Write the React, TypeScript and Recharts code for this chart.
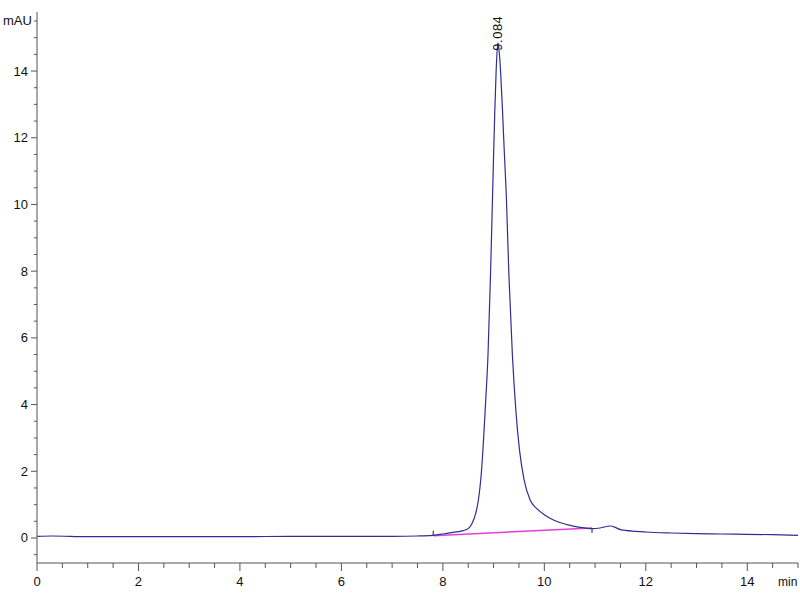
import { LineChart, Line, XAxis, YAxis, ReferenceLine, ReferenceDot } from 'recharts'

// retention time (min) and absorbance (mAU)
const times = [
  0, 0.3, 1, 2, 3, 4, 5, 5.5, 6, 7, 7.5, 7.8, 8.0, 8.2, 8.4, 8.5, 8.57, 8.65, 8.7, 8.75,
  8.79, 8.84, 8.89, 8.94, 8.98, 9.02, 9.05, 9.084, 9.12, 9.17, 9.21, 9.25, 9.3, 9.37, 9.44,
  9.51, 9.6, 9.72, 9.85, 10.0, 10.18, 10.45, 10.7, 10.94, 11.1, 11.3, 11.4, 11.5, 11.8, 12,
  12.5, 13, 13.5, 14, 14.5, 15,
]
const signal = [
  0.05, 0.06, 0.04, 0.04, 0.04, 0.04, 0.05, 0.05, 0.05, 0.05, 0.06, 0.08, 0.12, 0.17, 0.22, 0.28,
  0.42, 0.75, 1.14, 1.8, 2.64, 4.0, 5.5, 7.94, 10.3, 12.6, 14.0, 14.85, 14.4, 13.0, 11.6, 10.3,
  7.94, 5.5, 3.8, 2.64, 1.75, 1.14, 0.88, 0.7, 0.54, 0.4, 0.32, 0.28, 0.3, 0.36, 0.32, 0.25,
  0.2, 0.18, 0.15, 0.13, 0.12, 0.11, 0.1, 0.08,
]

const peakTime = 9.084
const peakHeight = 14.85
const peakLabel = '9.084'

// integration baseline start / end
const baseStart = { x: 7.81, y: 0.07 }
const baseEnd = { x: 10.94, y: 0.3 }

const xTicks = Array.from({ length: 31 }, (_, i) => i * 0.5)
const yTicks = Array.from({ length: 33 }, (_, i) => -0.5 + i * 0.5)

const data = times.map((t, i) => ({ t, v: signal[i] }))

const axisColor = '#555'
const font = '"Liberation Sans", Arial, sans-serif'

const XTick = (props: any) => {
  const { x, y, payload } = props
  const major = payload.value % 2 === 0
  return (
    <g>
      <line x1={x} y1={y} x2={x} y2={y + (major ? 8 : 5)} stroke={axisColor} />
      {major && (
        <text x={x} y={y + 23} textAnchor="middle" fontSize={13} fontFamily={font} fill="#111">
          {payload.value}
        </text>
      )}
    </g>
  )
}

const YTick = (props: any) => {
  const { x, y, payload } = props
  const v = Math.round(payload.value * 10) / 10
  const major = v % 2 === 0
  return (
    <g>
      <line x1={x} y1={y} x2={x - (major ? 6 : 3)} y2={y} stroke={axisColor} />
      {major && (
        <text x={x - 9} y={y} textAnchor="end" dominantBaseline="central" fontSize={13} fontFamily={font} fill="#111">
          {v}
        </text>
      )}
    </g>
  )
}

const PeakLabel = (props: any) => {
  const { viewBox } = props
  const cx = viewBox.x + viewBox.width / 2
  const cy = viewBox.y + viewBox.height / 2
  return (
    <text
      x={cx}
      y={cy + 8}
      transform={`rotate(-90 ${cx} ${cy + 8})`}
      textAnchor="start"
      dominantBaseline="central"
      fontSize={13}
      letterSpacing={0.5}
      fontFamily={font}
      fill="#111"
    >
      {peakLabel}
    </text>
  )
}

export default function App() {
  return (
    <div style={{ position: 'absolute', left: 0, top: 0, width: 800, height: 600, background: '#fff' }}>
      <LineChart width={800} height={600} data={data} margin={{ top: 12, right: 2, left: 0, bottom: 0 }}>
        <XAxis
          dataKey="t"
          type="number"
          domain={[0, 15]}
          ticks={xTicks}
          interval={0}
          tickSize={0}
          tickMargin={0}
          tickLine={false}
          tick={<XTick />}
          height={37}
          stroke={axisColor}
          allowDataOverflow
        />
        <YAxis
          type="number"
          domain={[-0.75, 15.77]}
          ticks={yTicks}
          interval={0}
          tickSize={0}
          tickMargin={0}
          tickLine={false}
          tick={<YTick />}
          width={37}
          stroke={axisColor}
          allowDataOverflow
        />
        <ReferenceLine segment={[baseStart, baseEnd]} stroke="#e040d8" strokeWidth={1.5} ifOverflow="visible" />
        <ReferenceLine
          segment={[baseStart, { x: baseStart.x, y: baseStart.y + 0.15 }]}
          stroke="#222"
          ifOverflow="visible"
        />
        <ReferenceLine
          segment={[baseEnd, { x: baseEnd.x, y: baseEnd.y - 0.15 }]}
          stroke="#222"
          ifOverflow="visible"
        />
        <Line
          type="monotone"
          dataKey="v"
          stroke="#2e2e96"
          strokeWidth={1.2}
          dot={false}
          isAnimationActive={false}
        />
        <ReferenceDot x={peakTime} y={peakHeight} r={1} fillOpacity={0} stroke="none" label={<PeakLabel />} />
      </LineChart>
      <div style={{ position: 'absolute', left: 3, top: 13, fontFamily: font, fontSize: 13, color: '#111' }}>mAU</div>
      <div style={{ position: 'absolute', left: 778, top: 575, fontFamily: font, fontSize: 12, color: '#111' }}>min</div>
    </div>
  )
}
